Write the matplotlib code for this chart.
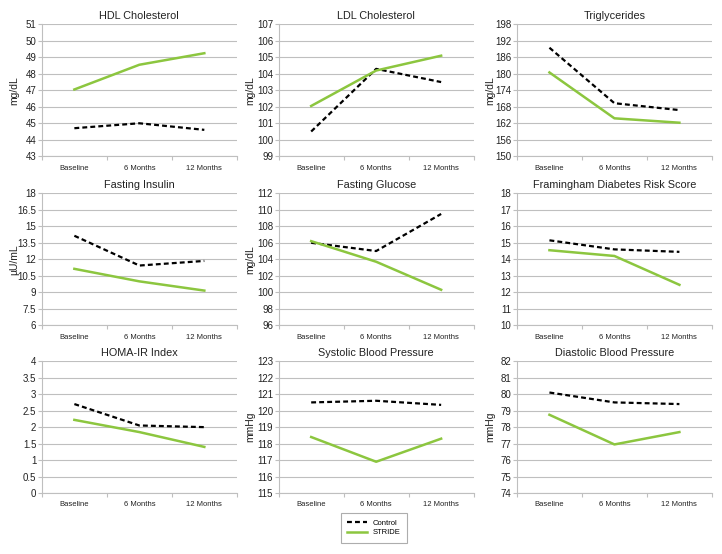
import matplotlib
matplotlib.use("Agg")
import matplotlib.pyplot as plt
from matplotlib.ticker import FixedLocator, NullFormatter, FixedFormatter
from matplotlib import font_manager

names = set(f.name for f in font_manager.fontManager.ttflist)
narrow = 'Liberation Sans Narrow' if 'Liberation Sans Narrow' in names else 'Liberation Sans'
plt.rcParams['font.family'] = [narrow, 'DejaVu Sans']

categories = ["Baseline", "6 Months", "12 Months"]
titles = ["HDL Cholesterol", "LDL Cholesterol", "Triglycerides",
          "Fasting Insulin", "Fasting Glucose", "Framingham Diabetes Risk Score",
          "HOMA-IR Index", "Systolic Blood Pressure", "Diastolic Blood Pressure"]
ylabels = ["mg/dL", "mg/dL", "mg/dL", "µU/mL", "mg/dL", "", "", "mmHg", "mmHg"]

control = [
    [44.7, 45.0, 44.6],
    [100.5, 104.3, 103.5],
    [189.5, 169.3, 166.8],
    [14.14, 11.43, 11.85],
    [106.0, 105.0, 109.5],
    [15.15, 14.6, 14.45],
    [2.7, 2.05, 2.0],
    [120.5, 120.6, 120.35],
    [80.1, 79.5, 79.4],
]
stride = [
    [47.05, 48.55, 49.25],
    [102.05, 104.2, 105.1],
    [180.5, 163.8, 162.2],
    [11.13, 9.99, 9.15],
    [106.2, 103.7, 100.3],
    [14.55, 14.2, 12.45],
    [2.22, 1.85, 1.4],
    [118.4, 116.9, 118.3],
    [78.75, 76.95, 77.7],
]
yticks = [
    [43, 44, 45, 46, 47, 48, 49, 50, 51],
    [99, 100, 101, 102, 103, 104, 105, 106, 107],
    [150, 156, 162, 168, 174, 180, 186, 192, 198],
    [6, 7.5, 9, 10.5, 12, 13.5, 15, 16.5, 18],
    [96, 98, 100, 102, 104, 106, 108, 110, 112],
    [10, 11, 12, 13, 14, 15, 16, 17, 18],
    [0, 0.5, 1, 1.5, 2, 2.5, 3, 3.5, 4],
    [115, 116, 117, 118, 119, 120, 121, 122, 123],
    [74, 75, 76, 77, 78, 79, 80, 81, 82],
]

def fmt(v):
    return ("%g" % v)

fig = plt.figure(figsize=(7.22, 5.54), dpi=100)
lefts = [0.058, 0.386, 0.716]
bottoms = [0.718, 0.413, 0.110]
w, h = 0.270, 0.238
label_x = [-0.115, -0.12, -0.11]
green = "#8CC63F"
grid_c = "#BFBFBF"
txt_c = "#222222"
xs = [0.5, 1.5, 2.5]

for i in range(9):
    r, c = divmod(i, 3)
    ax = fig.add_axes([lefts[c], bottoms[r], w, h])
    ax.plot(xs, control[i], color="black", lw=1.6, ls=(0, (2.2, 1.4)), label="Control", zorder=3)
    ax.plot(xs, stride[i], color=green, lw=1.8, label="STRIDE", zorder=3)
    ax.set_xlim(0, 3)
    ax.set_ylim(yticks[i][0], yticks[i][-1])
    ax.yaxis.set_major_locator(FixedLocator(yticks[i]))
    ax.set_yticklabels([fmt(v) for v in yticks[i]])
    ax.xaxis.set_major_locator(FixedLocator([0, 1, 2, 3]))
    ax.xaxis.set_major_formatter(NullFormatter())
    ax.xaxis.set_minor_locator(FixedLocator(xs))
    ax.xaxis.set_minor_formatter(FixedFormatter(categories))
    ax.tick_params(axis='x', which='major', length=3, color=grid_c, direction='out')
    ax.tick_params(axis='x', which='minor', length=0, labelsize=5.5, pad=6, labelcolor=txt_c)
    ax.tick_params(axis='y', length=3, color=grid_c, labelsize=7, pad=1, labelcolor=txt_c)
    ax.grid(axis='y', color=grid_c, lw=0.8)
    ax.set_axisbelow(True)
    for s in ['top', 'right']:
        ax.spines[s].set_visible(False)
    for s in ['left', 'bottom']:
        ax.spines[s].set_color(grid_c)
        ax.spines[s].set_linewidth(0.8)
    ax.set_title(titles[i], fontsize=7.8, pad=4, color=txt_c)
    if ylabels[i]:
        ax.set_ylabel(ylabels[i], fontsize=7.5, color=txt_c)
        ax.yaxis.set_label_coords(label_x[c], 0.5)
    if i == 0:
        handles, labels = ax.get_legend_handles_labels()

leg = fig.legend(handles, labels, loc='center', bbox_to_anchor=(374 / 722, 1 - 528 / 554),
                 fontsize=5.5, frameon=True, fancybox=False, edgecolor="#999999",
                 handlelength=2.6, handletextpad=0.8, borderpad=0.8, labelspacing=0.3)
leg.get_frame().set_linewidth(0.8)

fig.savefig("out.png", dpi=100)
